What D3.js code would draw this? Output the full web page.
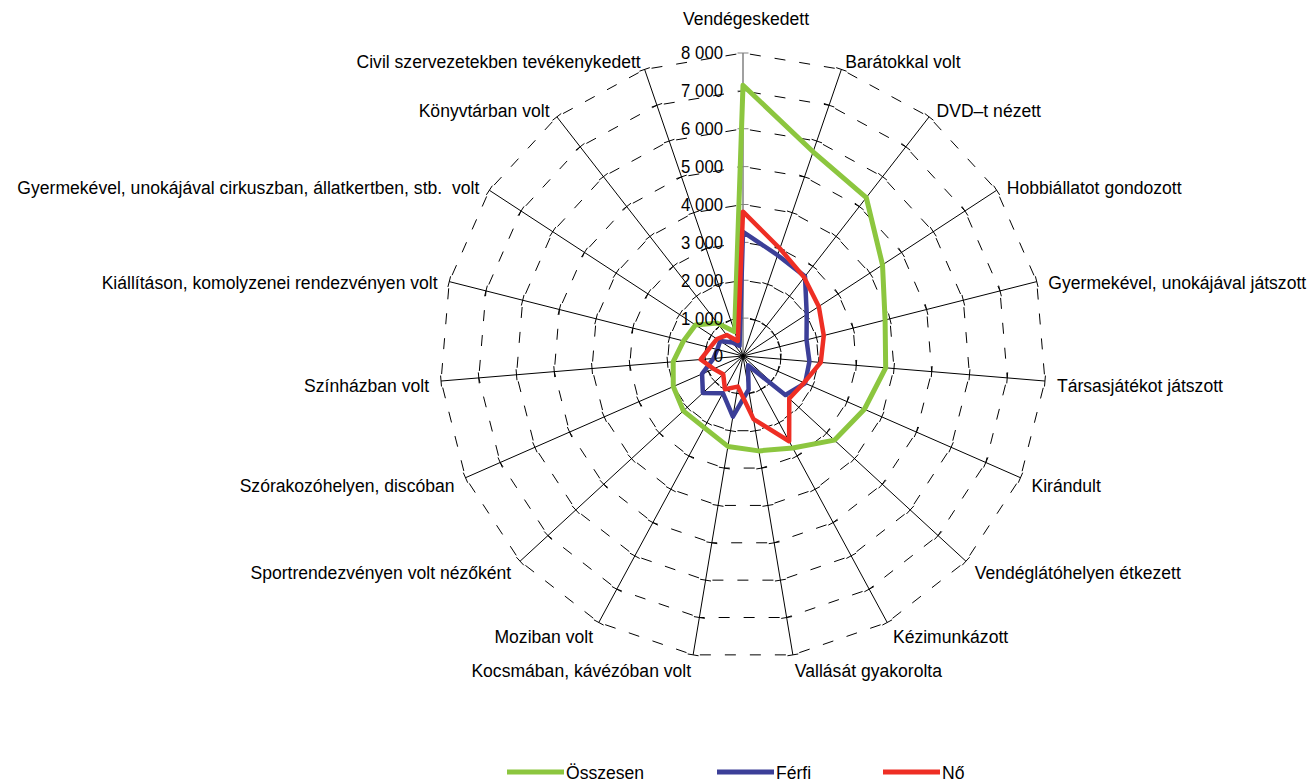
<!DOCTYPE html>
<html>
<head>
<meta charset="utf-8">
<style>
  body { margin: 0; background: #fff; }
  svg text { font-family: "Liberation Sans", Arial, sans-serif; fill: #000; white-space: pre; }
</style>
</head>
<body>
<svg width="1308" height="782"></svg>
<script src="https://cdn.jsdelivr.net/npm/d3@7/dist/d3.min.js"></script>
<script>
    var categories = [
        "Vendégeskedett",
        "Barátokkal volt",
        "DVD\u2013t nézett",
        "Hobbiállatot gondozott",
        "Gyermekével, unokájával játszott",
        "Társasjátékot játszott",
        "Kirándult",
        "Vendéglátóhelyen étkezett",
        "Kézimunkázott",
        "Vallását gyakorolta",
        "Kocsmában, kávézóban volt",
        "Moziban volt",
        "Sportrendezvényen volt nézőként",
        "Szórakozóhelyen, discóban",
        "Színházban volt",
        "Kiállításon, komolyzenei rendezvényen volt",
        "Gyermekével, unokájával cirkuszban, állatkertben, stb.  volt",
        "Könyvtárban volt",
        "Civil szervezetekben tevékenykedett"
    ];

    // Összesen
    var total = [7150, 5700, 5300, 4400, 3870, 3780, 3500, 3280, 2760, 2540, 2420, 2150, 2140, 2010, 1850, 1620, 1500, 1100, 680];
    // Férfi
    var male = [3280, 2815, 2665, 2010, 1730, 1760, 1790, 1520, 280, 900, 1620, 1115, 1440, 1180, 780, 700, 720, 450, 280];
    // Nő
    var female = [3810, 3000, 2630, 2390, 2200, 2060, 1760, 1660, 2560, 1690, 820, 1000, 710, 845, 1120, 900, 820, 700, 420];

    var valueTicks = [0, 1000, 2000, 3000, 4000, 5000, 6000, 7000, 8000];

    var seriesNames = ["Összesen", "Férfi", "Nő"];
    var seriesColors = ["#8cc63f", "#3c3f98", "#ee2e24"];

    var svg = d3.select("svg"),
        cx = 743,
        cy = 356,
        R = 303,
        n = categories.length;

    var r = d3.scaleLinear().domain([0, 8000]).range([0, R]);
    var angle = d3.scaleLinear().domain([0, n]).range([0, 2 * Math.PI]);

    var fmt = d3.formatLocale({decimal: ",", thousands: " ", grouping: [3], currency: ["", ""]}).format(",");

    function pt(i, v) {
        var a = angle(i);
        return [cx + Math.sin(a) * r(v), cy - Math.cos(a) * r(v)];
    }

    var g = svg.append("g");

    // dashed web, each segment restarting its pattern at the spoke
    var segs = [];
    valueTicks.slice(1).forEach(function (v) {
        d3.range(n).forEach(function (i) {
            segs.push({a: pt(i, v), b: pt((i + 1) % n, v)});
        });
    });
    g.append("g").selectAll("line")
        .data(segs)
        .enter().append("line")
        .attr("x1", function (d) { return d.a[0]; })
        .attr("y1", function (d) { return d.a[1]; })
        .attr("x2", function (d) { return d.b[0]; })
        .attr("y2", function (d) { return d.b[1]; })
        .attr("stroke", "#000")
        .attr("stroke-width", 1)
        .attr("stroke-dasharray", "11,14")
        .attr("stroke-dashoffset", 18);

    // spokes
    g.append("g").selectAll("line")
        .data(d3.range(n))
        .enter().append("line")
        .attr("x1", cx)
        .attr("y1", cy)
        .attr("x2", function (i) { return pt(i, 8000)[0]; })
        .attr("y2", function (i) { return pt(i, 8000)[1]; })
        .attr("stroke", function (i) { return i == 0 ? "#808080" : "#000"; })
        .attr("stroke-width", function (i) { return i == 0 ? 1.5 : 1; });

    // tick marks crossing every spoke
    var tk = [];
    d3.range(n).forEach(function (i) {
        valueTicks.slice(1).forEach(function (v) {
            tk.push({i: i, v: v});
        });
    });
    g.append("g").selectAll("line")
        .data(tk)
        .enter().append("line")
        .attr("x1", function (d) {
            return pt(d.i, d.v)[0] - Math.cos(angle(d.i)) * 5.5;
        })
        .attr("y1", function (d) {
            return pt(d.i, d.v)[1] - Math.sin(angle(d.i)) * 5.5;
        })
        .attr("x2", function (d) {
            return pt(d.i, d.v)[0] + Math.cos(angle(d.i)) * 5.5;
        })
        .attr("y2", function (d) {
            return pt(d.i, d.v)[1] + Math.sin(angle(d.i)) * 5.5;
        })
        .attr("stroke", function (d) { return d.i == 0 ? "#808080" : "#000"; })
        .attr("stroke-width", 1);

    // series
    var radial = d3.lineRadial()
        .angle(function (d, i) { return angle(i); })
        .radius(function (d) { return r(d); })
        .curve(d3.curveLinearClosed);

    [total, male, female].forEach(function (s, k) {
        g.append("path")
            .datum(s)
            .attr("transform", "translate(" + cx + "," + cy + ")")
            .attr("fill", "none")
            .attr("stroke", seriesColors[k])
            .attr("stroke-width", k == 0 ? 5 : 4.5)
            .attr("stroke-linejoin", "round")
            .attr("d", radial);
    });

    // value axis labels
    g.append("g").selectAll("text")
        .data(valueTicks)
        .enter().append("text")
        .attr("transform", function (d) {
            return "translate(" + (cx - 20) + "," + (cy - r(d)) + ") scale(0.93,1)";
        })
        .attr("dy", "0.36em")
        .attr("text-anchor", "end")
        .style("font-size", "18px")
        .text(function (d) { return fmt(d); });

    // category labels
    g.append("g").selectAll("text")
        .data(categories)
        .enter().append("text")
        .attr("transform", function (d, i) {
            var a = angle(i), x, y;
            if (i == 0) {
                x = cx + 3;
                y = cy - R - 35;
            } else {
                x = cx + Math.sin(a) * (R + 12);
                y = cy - Math.cos(a) * (R + 12) + 3;
            }
            return "translate(" + x + "," + y + ") scale(0.925,1)";
        })
        .attr("dy", "0.36em")
        .attr("text-anchor", function (d, i) {
            if (i == 0) return "middle";
            return i < n / 2 ? "start" : "end";
        })
        .style("font-size", "19px")
        .text(function (d) { return d; });

    // legend
    var legendX = [507, 717, 883];
    var legend = svg.append("g").selectAll("g")
        .data(seriesNames)
        .enter().append("g")
        .attr("transform", function (d, k) { return "translate(" + legendX[k] + ",772)"; });
    legend.append("line")
        .attr("x1", 0)
        .attr("x2", 57)
        .attr("y1", 0)
        .attr("y2", 0)
        .attr("stroke", function (d, k) { return seriesColors[k]; })
        .attr("stroke-width", 5);
    legend.append("text")
        .attr("transform", "translate(59,0) scale(0.925,1)")
        .attr("dy", "0.36em")
        .style("font-size", "19px")
        .text(function (d) { return d; });
</script>
</body>
</html>
